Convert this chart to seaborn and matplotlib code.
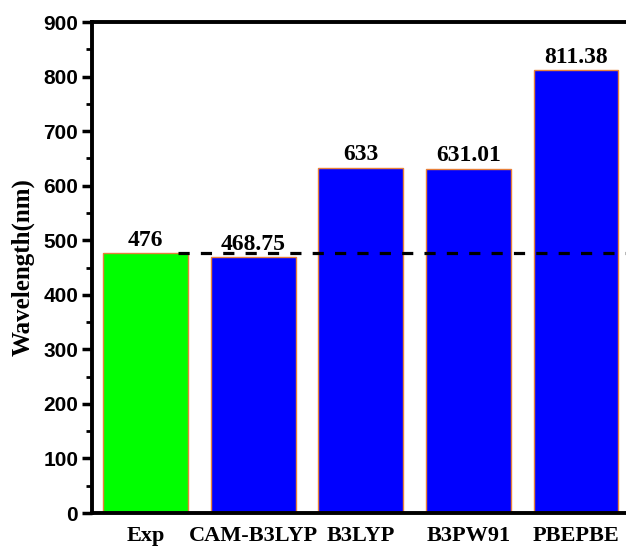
import pandas as pd
import matplotlib.pyplot as plt
import seaborn as sns

# Data
methods = ['Exp', 'CAM-B3LYP', 'B3LYP', 'B3PW91', 'PBEPBE']
wavelengths = [476, 468.75, 633, 631.01, 811.38]
value_labels = ['476', '468.75', '633', '631.01', '811.38']
bar_colors = ['#00ff00', '#0000ff', '#0000ff', '#0000ff', '#0000ff']
exp_value = 476

df = pd.DataFrame({'Method': methods, 'Wavelength': wavelengths})

sns.set_theme(style="ticks", rc={'text.color': 'black', 'axes.labelcolor': 'black',
                                 'xtick.color': 'black', 'ytick.color': 'black'})
plt.rcParams['font.family'] = ['Liberation Sans', 'DejaVu Sans']

fig = plt.figure(figsize=(6.26, 5.46), dpi=100)
# axes run slightly past the right edge, like the cropped original
ax = fig.add_axes([0.147, 0.0604, 0.859, 0.8993])

sns.barplot(data=df, x='Method', y='Wavelength', hue='Method', palette=bar_colors,
            legend=False, width=0.79, edgecolor='#e8803a', linewidth=1.0,
            saturation=1, ax=ax)

# value labels on top of bars
for container, lab in zip(ax.containers, value_labels):
    ax.bar_label(container, labels=[lab], padding=2, fontsize=17, fontweight='bold',
                 color='black', family=['Liberation Serif', 'DejaVu Serif'])

# experimental reference line
ax.hlines(exp_value, 0.3, 4.6, colors='black', linestyles=(0, (3.5, 3.5)),
          linewidth=2.3, zorder=5)

ax.set_xlim(-0.5, 4.5)
ax.set_ylim(0, 900)
ax.set_yticks(range(0, 901, 100))
ax.set_yticks(range(50, 900, 100), minor=True)
ax.tick_params(axis='y', which='major', direction='out', length=7, width=2.5,
               labelsize=15, pad=3, colors='black')
ax.tick_params(axis='y', which='minor', direction='out', length=4, width=2,
               colors='black')
ax.tick_params(axis='x', length=0, pad=9, colors='black')
for lab in ax.get_yticklabels():
    lab.set_fontweight('bold')
ax.set_xticks(range(len(methods)))
ax.set_xticklabels(methods, fontsize=16, fontweight='bold',
                   family=['Liberation Serif', 'DejaVu Serif'])

ax.set_xlabel('')
ax.set_ylabel('Wavelength(nm)', fontsize=18, fontweight='bold', color='black',
              family=['Liberation Serif', 'DejaVu Serif'], labelpad=6)

for side in ['left', 'bottom', 'top', 'right']:
    ax.spines[side].set_linewidth(2.8)
    ax.spines[side].set_color('black')

fig.savefig('out.png', dpi=100)
